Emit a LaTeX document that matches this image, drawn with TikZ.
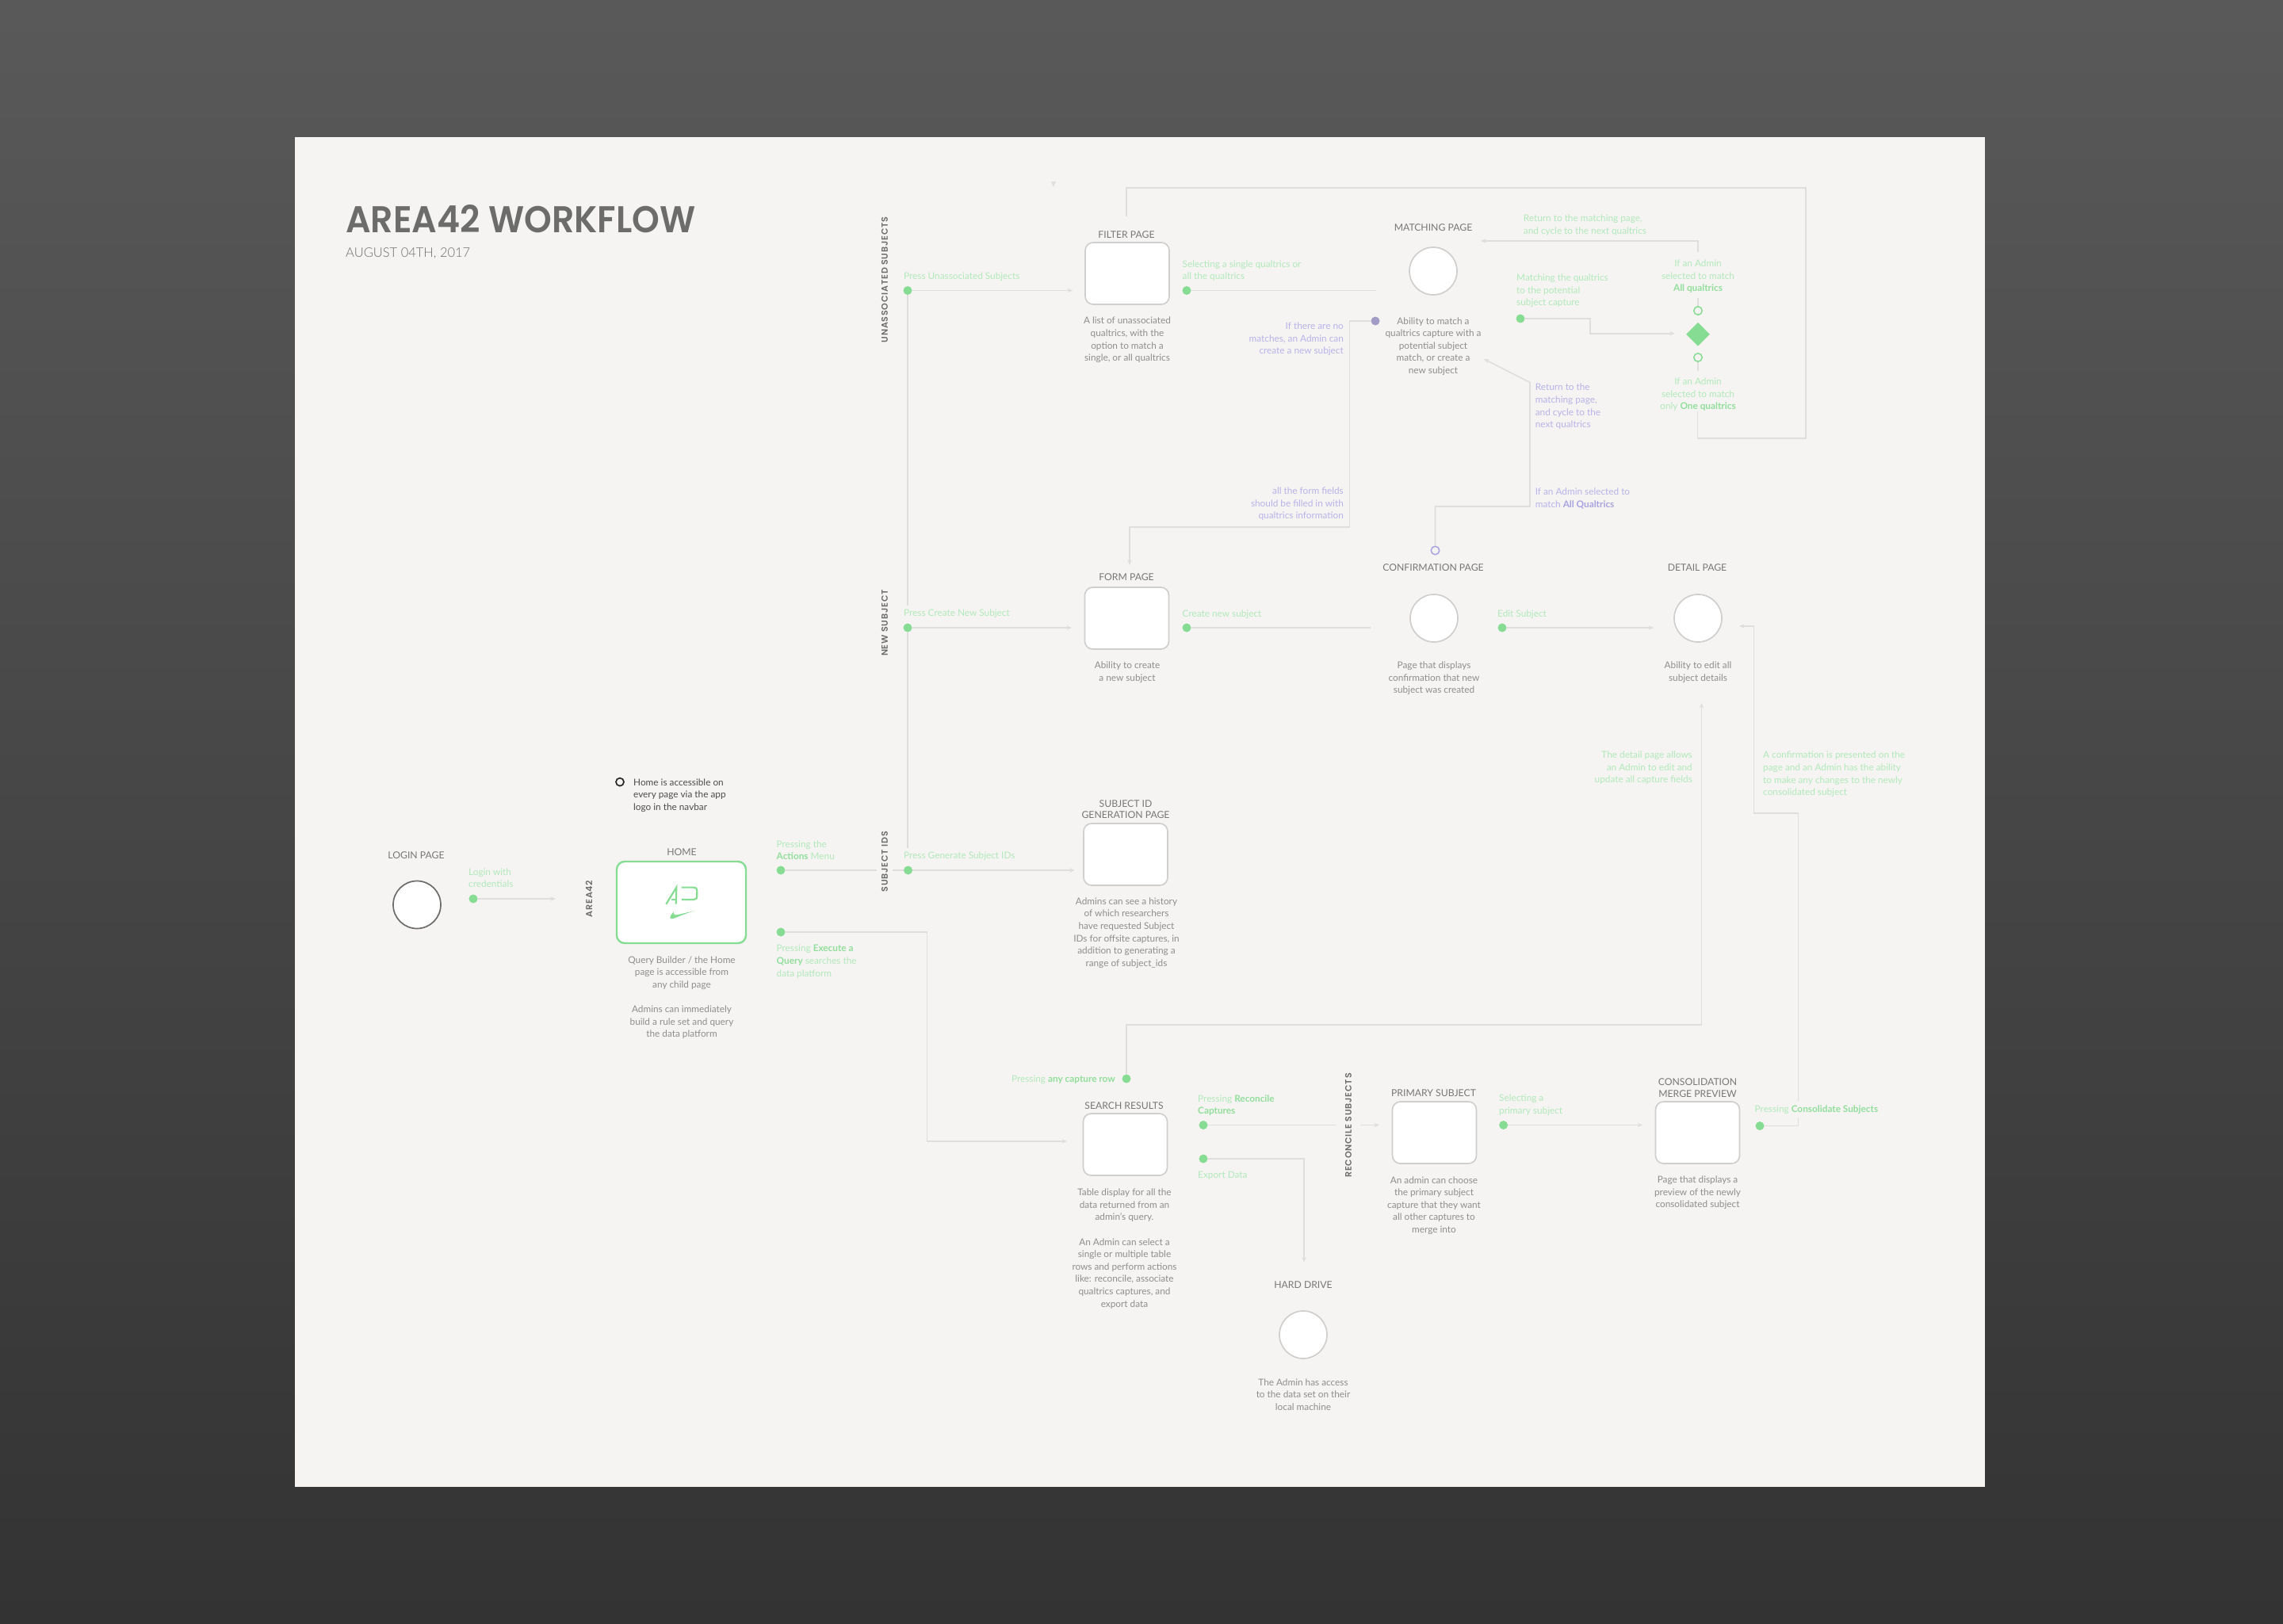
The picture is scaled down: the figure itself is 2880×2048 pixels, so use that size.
\documentclass[tikz,border=0pt]{standalone}
\usepackage{fontspec}
\usetikzlibrary{arrows.meta,shapes.geometric}
\setmainfont{Lato}[UprightFont=* Regular,BoldFont=* Bold]
\newfontfamily\titlef{Poppins}[UprightFont=* SemiBold,FakeStretch=0.94]
\newfontfamily\subf{Lato}[UprightFont=* Light]
\newfontfamily\lblf{Lato}[UprightFont=* Regular]
\newfontfamily\vlabf{Poppins}[UprightFont=* SemiBold,LetterSpace=7]
\definecolor{cardc}{HTML}{F5F4F2}
\definecolor{linec}{HTML}{DFDEDC}
\definecolor{strokec}{HTML}{D0CFCD}
\definecolor{descc}{HTML}{8E8E8C}
\definecolor{labelc}{HTML}{6C6C6A}
\definecolor{lblc}{HTML}{777775}
\definecolor{gtext}{HTML}{B2E9BB}
\definecolor{gbold}{HTML}{92DE9C}
\definecolor{gdotc}{HTML}{86DC92}
\definecolor{ptext}{HTML}{B8B3E8}
\definecolor{pbold}{HTML}{A8A2E0}
\definecolor{pdotc}{HTML}{A09CC6}
\newcommand{\gb}[1]{{\bfseries\color{gbold}#1}}
\newcommand{\pb}[1]{{\bfseries\color{pbold}#1}}
\tikzset{
  x=1pt,y=-1pt,
  conn/.style={draw=linec,line width=1.6pt},
  arr/.style={conn,-{Stealth[length=6.5pt,width=5.5pt]}},
  pagebox/.style={draw=strokec,line width=1.7pt,fill=white,rounded corners=10pt,inner sep=0pt,minimum width=106pt,minimum height=78pt},
  homebox/.style={draw=gdotc,line width=2.4pt,fill=white,rounded corners=10pt,inner sep=0pt,minimum width=163pt,minimum height=103pt},
  pagecirc/.style={circle,draw=strokec,line width=1.7pt,fill=white,inner sep=0pt,minimum size=60pt},
  gdot/.style={circle,fill=gdotc,inner sep=0pt,minimum size=11pt},
  pdot/.style={circle,fill=pdotc,inner sep=0pt,minimum size=11pt},
  gring/.style={circle,draw=gdotc,line width=1.5pt,fill=cardc,inner sep=0pt,minimum size=10.5pt},
  pring/.style={circle,draw=pbold,line width=1.5pt,fill=cardc,inner sep=0pt,minimum size=10.5pt},
  kring/.style={circle,draw=black!85,line width=1.7pt,fill=cardc,inner sep=0pt,minimum size=10pt},
  gdiam/.style={diamond,fill=gdotc,inner sep=0pt,minimum width=30pt,minimum height=30pt,aspect=1},
  tx/.style={inner sep=0pt,yshift=-1.5pt,font=\fontsize{11.8}{15.6}\selectfont},
  desc/.style={tx,text=descc,align=center},
  lbl/.style={inner sep=0pt,yshift=-1pt,text=lblc,align=center,font=\lblf\fontsize{12.2}{14.6}\selectfont},
  gl/.style={tx,text=gtext,align=left,anchor=west},
  gr/.style={tx,text=gtext,align=right,anchor=east},
  gc/.style={tx,text=gtext,align=center},
  pl/.style={tx,text=ptext,align=left,anchor=west},
  pr/.style={tx,text=ptext,align=right,anchor=east},
  vlab/.style={inner sep=0pt,rotate=90,text=labelc,font=\vlabf\fontsize{11.1}{12}\selectfont},
}
\begin{document}
\begin{tikzpicture}
\useasboundingbox (0,0) rectangle (2880,2048);
\fill[top color=black!65,bottom color=black!80] (0,0) rectangle (2880,2048);
\fill[cardc] (372,172.5) rectangle (2504,1876);

% title
\node[inner sep=0pt,anchor=west,text=labelc,font=\titlef\fontsize{47}{50}\selectfont] (title) at (436,276) {AREA42 WORKFLOW};
\node[inner sep=0pt,anchor=west,yshift=-1.5pt,text=labelc,font=\subf\fontsize{16.5}{20}\selectfont] (subtitle) at (436,318) {AUGUST 04TH, 2017};

% section labels
\node[vlab] (vunassoc) at (1116,353) {UNASSOCIATED SUBJECTS};
\node[vlab] (vnew) at (1116,786) {NEW SUBJECT};
\node[vlab] (vids) at (1116,1087) {SUBJECT IDS};
\node[vlab] (varea) at (743,1134) {AREA42};
\node[vlab] (vrecon) at (1701,1420) {RECONCILE SUBJECTS};

% pages
\node[pagecirc,draw=labelc] (login) at (526,1141.5) {};
\node[homebox] (home) at (859.5,1138.5) {};
\node[pagebox] (filter) at (1422,345) {};
\node[pagebox] (form) at (1421.5,780) {};
\node[pagebox] (subid) at (1420,1078) {};
\node[pagebox] (search) at (1419.5,1444) {};
\node[pagebox] (primary) at (1809.5,1429) {};
\node[pagebox] (consol) at (2141.5,1429) {};
\node[pagecirc] (matching) at (1808,342) {};
\node[pagecirc] (confirm) at (1809,780) {};
\node[pagecirc] (detail) at (2142,780) {};
\node[pagecirc] (hdd) at (1644,1684) {};

% page titles
\node[lbl] (tlogin) at (525,1078) {LOGIN PAGE};
\node[lbl] (thome) at (860,1074) {HOME};
\node[lbl] (tfilter) at (1421,295) {FILTER PAGE};
\node[lbl] (tmatch) at (1808,286.5) {MATCHING PAGE};
\node[lbl] (tform) at (1421,727) {FORM PAGE};
\node[lbl] (tconf) at (1808,715) {CONFIRMATION PAGE};
\node[lbl] (tdetail) at (2141,715) {DETAIL PAGE};
\node[lbl] (tsubid) at (1420,1020) {SUBJECT ID\\GENERATION PAGE};
\node[lbl] (tsearch) at (1418,1394) {SEARCH RESULTS};
\node[lbl] (tprim) at (1808.5,1378) {PRIMARY SUBJECT};
\node[lbl] (tcons) at (2141.5,1371.5) {CONSOLIDATION\\MERGE PREVIEW};
\node[lbl] (thdd) at (1644,1620) {HARD DRIVE};

% descriptions
\node[desc] (dhome) at (860,1257) {Query Builder / the Home\\page is accessible from\\any child page\\[15.6pt]Admins can immediately\\build a rule set and query\\the data platform};
\node[desc] (dfilter) at (1422,427.5) {A list of unassociated\\qualtrics, with the\\option to match a\\single, or all qualtrics};
\node[desc] (dmatch) at (1808,435.5) {Ability to match a\\qualtrics capture with a\\potential subject\\match, or create a\\new subject};
\node[desc] (dform) at (1422,847) {Ability to create\\a new subject};
\node[desc] (dconf) at (1809,854.5) {Page that displays\\confirmation that new\\subject was created};
\node[desc] (ddetail) at (2142,847) {Ability to edit all\\subject details};
\node[desc] (dsubid) at (1421,1175.5) {Admins can see a history\\of which researchers\\have requested Subject\\IDs for offsite captures, in\\addition to generating a\\range of subject\_ids};
\node[desc] (dsearch) at (1418.5,1574) {Table display for all the\\data returned from an\\admin's query.\\[15.6pt]An Admin can select a\\single or multiple table\\rows and perform actions\\like: reconcile, associate\\qualtrics captures, and\\export data};
\node[desc] (dprim) at (1809,1519.5) {An admin can choose\\the primary subject\\capture that they want\\all other captures to\\merge into};
\node[desc] (dcons) at (2141.5,1503.5) {Page that displays a\\preview of the newly\\consolidated subject};
\node[desc] (dhdd) at (1644,1758) {The Admin has access\\to the data set on their\\local machine};

% home note
\node[kring] (hring) at (782,986.6) {};
\node[tx,text=black!70,align=left,anchor=west] (hnote) at (799,1002) {Home is accessible on\\every page via the app\\logo in the navbar};

% logo
\draw[gdotc,line width=2.2pt,line join=miter] (840.3,1140.7) -- (853.3,1119.6) -- (852.7,1140.7);
\draw[gdotc,line width=2pt] (846.5,1135) -- (853,1135);
\draw[gdotc,line width=2.2pt] (859.5,1119.6) -- (875,1119.6) .. controls (878,1119.6) and (879.3,1121) .. (879.3,1124) -- (879.3,1130) .. controls (879.3,1133.5) and (878,1135) .. (875,1135) -- (860,1135);
\fill[gdotc] (877.5,1148.7) .. controls (866,1152) and (857,1156) .. (851,1158.4) .. controls (847,1160) and (844,1159.5) .. (846,1155.5) .. controls (847,1153.5) and (848,1152.5) .. (850,1150.5) .. controls (849,1154) and (851,1155) .. (855,1154) .. controls (862,1152.5) and (870,1150.5) .. (877.5,1148.7) -- cycle;

% green dots
\node[gdot] (dlogin) at (597,1134) {};
\node[gdot] (dactions) at (985,1098) {};
\node[gdot] (dexec) at (985,1176) {};
\node[gdot] (dun) at (1145,366.5) {};
\node[gdot] (dnew) at (1145,792) {};
\node[gdot] (dgen) at (1145.5,1098) {};
\node[gdot] (dsel) at (1497,366.5) {};
\node[gdot] (dcreate) at (1497,792) {};
\node[gdot] (dedit) at (1895,792) {};
\node[gdot] (dmatchq) at (1918,402) {};
\node[pdot] (dnomatch) at (1735,405) {};
\node[gdot] (dcapture) at (1421,1361) {};
\node[gdot] (drecon) at (1518,1419.5) {};
\node[gdot] (dexport) at (1518,1462) {};
\node[gdot] (dpick) at (1896.6,1419.5) {};
\node[gdot] (dmerge) at (2220,1420.5) {};

\node[gring] (rall) at (2142,392) {};
\node[gdiam] (choice) at (2142,421.7) {};
\node[gring] (rone) at (2142,451) {};
\node[pring] (rconf) at (1810.5,694.5) {};

% free ends and bends
\coordinate (a1) at (701,1134);
\coordinate (a2) at (1106,1098);
\coordinate (a3) at (1126,1098);
\coordinate (a4) at (1355.5,1098);
\coordinate (v1) at (1145,764);
\coordinate (v2) at (1145,1070);
\coordinate (a5) at (1353,366.5);
\coordinate (a6) at (1352,792);
\coordinate (a7) at (1736,366.5);
\coordinate (a8) at (1729,792);
\coordinate (a9) at (2086,792);
\coordinate (l1) at (2141.5,519);
\coordinate (l2) at (2141.5,553);
\coordinate (l3) at (2278,553);
\coordinate (l4) at (2278,237);
\coordinate (l5) at (1421,237);
\coordinate (l6) at (1421,273);
\coordinate (n1) at (1702.5,405);
\coordinate (n2) at (1702.5,665);
\coordinate (n3) at (1425,665);
\coordinate (n4) at (1425,713);
\coordinate (r1) at (1872,453);
\coordinate (r2) at (1930,482.5);
\coordinate (r3) at (1930,639);
\coordinate (r4) at (1810.5,639);
\coordinate (c1) at (2142,318);
\coordinate (c2) at (2142,304);
\coordinate (c3) at (1868,304);
\coordinate (c4) at (2142,375.5);
\coordinate (c5) at (2142,468);
\coordinate (m1) at (2006,402);
\coordinate (m2) at (2006,420.7);
\coordinate (m3) at (2112.7,420.7);
\coordinate (e1) at (1169.6,1176);
\coordinate (e2) at (1169.6,1440);
\coordinate (e3) at (1346,1440);
\coordinate (f1) at (1421,1293);
\coordinate (f2) at (2146.5,1293);
\coordinate (f3) at (2146.5,887);
\coordinate (s1) at (1685.4,1419.5);
\coordinate (s2) at (1716,1419.5);
\coordinate (s3) at (1740,1419.5);
\coordinate (x1) at (1645,1462);
\coordinate (x2) at (1645,1592.7);
\coordinate (p1) at (2072,1419.5);
\coordinate (g1) at (2268.5,1420.5);
\coordinate (g2) at (2268.5,1410);
\coordinate (g3) at (2268.5,1389);
\coordinate (g4) at (2268.5,1026);
\coordinate (g5) at (2212.5,1026);
\coordinate (g6) at (2212.5,790);
\coordinate (g7) at (2194,790);
\coordinate (tick1) at (1329,229);

% connectors
\draw[arr] (dlogin) -- (a1);
\draw[conn] (dactions) -- (a2);
\draw[conn] (a3) -- (dgen);
\draw[arr] (dgen) -- (a4);
\draw[conn] (dun) -- (v1);
\draw[conn] (dnew) -- (v2);
\draw[arr] (dun) -- (a5);
\draw[arr] (dnew) -- (a6);
\draw[conn] (dsel) -- (a7);
\draw[conn] (dcreate) -- (a8);
\draw[arr] (dedit) -- (a9);
\draw[conn,line join=miter] (l1) -- (l2) -- (l3) -- (l4) -- (l5) -- (l6);
\draw[arr] (dnomatch) -- (n1) -- (n2) -- (n3) -- (n4);
\draw[arr] (rconf) -- (r4) -- (r3) -- (r2) -- (r1);
\draw[arr] (c1) -- (c2) -- (c3);
\draw[conn] (c4) -- (rall);
\draw[conn] (rone) -- (c5);
\draw[arr] (dmatchq) -- (m1) -- (m2) -- (m3);
\draw[arr] (dexec) -- (e1) -- (e2) -- (e3);
\draw[arr] (dcapture) -- (f1) -- (f2) -- (f3);
\draw[conn] (drecon) -- (s1);
\draw[arr] (s2) -- (s3);
\draw[arr] (dexport) -- (x1) -- (x2);
\draw[arr] (dpick) -- (p1);
\draw[conn] (dmerge) -- (g1) -- (g2);
\draw[arr] (g3) -- (g4) -- (g5) -- (g6) -- (g7);
\fill[linec] (tick1) -- ++(3,0) -- ++(-3,7) -- ++(-3,-7) -- cycle;

% green notes
\node[gl] (nlogin) at (591,1106.3) {Login with\\credentials};
\node[gl] (nactions) at (979.5,1071) {Pressing the\\\gb{Actions} Menu};
\node[gl] (nexec) at (979.5,1211.7) {Pressing \gb{Execute a}\\\gb{Query} searches the\\data platform};
\node[gl] (nun) at (1140,348) {Press Unassociated Subjects};
\node[gl] (nnew) at (1140,773) {Press Create New Subject};
\node[gl] (ngen) at (1140,1079) {Press Generate Subject IDs};
\node[gl] (nsel) at (1491.5,340.2) {Selecting a single qualtrics or\\all the qualtrics};
\node[gl] (ncreate) at (1491.5,773.6) {Create new subject};
\node[gl] (nedit) at (1889,773.6) {Edit Subject};
\node[gl] (nret) at (1921.7,282.8) {Return to the matching page,\\and cycle to the next qualtrics};
\node[gl] (nmq) at (1913,365.5) {Matching the qualtrics\\to the potential\\subject capture};
\node[gc] (nall) at (2142,347.5) {If an Admin\\selected to match\\\gb{All qualtrics}};
\node[gc] (none) at (2142,496.5) {If an Admin\\selected to match\\only \gb{One qualtrics}};
\node[gr] (ndet) at (2135,967.3) {The detail page allows\\an Admin to edit and\\update all capture fields};
\node[gl] (ncf) at (2224,975.5) {A confirmation is presented on the\\page and an Admin has the ability\\to make any changes to the newly\\consolidated subject};
\node[gr] (ncap) at (1407,1361) {Pressing \gb{any capture row}};
\node[gl] (nrec) at (1511,1393) {Pressing \gb{Reconcile}\\\gb{Captures}};
\node[gl] (nexp) at (1511,1482) {Export Data};
\node[gl] (npick) at (1891,1393) {Selecting a\\primary subject};
\node[gl] (ncons) at (2213.5,1399) {Pressing \gb{Consolidate Subjects}};

% purple notes
\node[pr] (pno) at (1695,426.3) {If there are no\\matches, an Admin can\\create a new subject};
\node[pr] (pff) at (1695,634.5) {all the form fields\\should be filled in with\\qualtrics information};
\node[pl] (pret) at (1936.6,511.5) {Return to the\\matching page,\\and cycle to the\\next qualtrics};
\node[pl] (pall) at (1936.6,627.5) {If an Admin selected to\\match \pb{All Qualtrics}};
\end{tikzpicture}
\end{document}
